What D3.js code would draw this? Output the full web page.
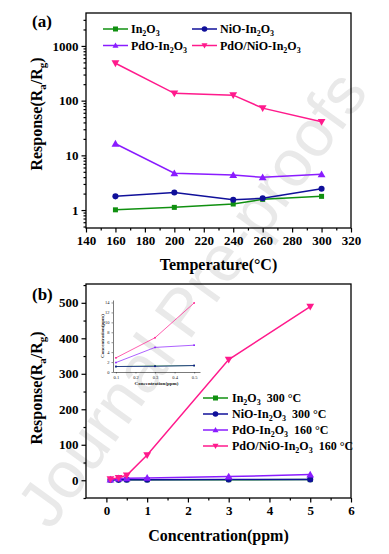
<!DOCTYPE html>
<html>
<head>
<meta charset="utf-8">
<script src="https://cdn.jsdelivr.net/npm/d3@7"></script>
<style>
    body { margin: 0; background: #fff; }
    svg text { font-family: "Liberation Serif", "Times New Roman", serif; font-weight: bold; }
</style>
</head>
<body>
<svg id="chart" width="389" height="554"></svg>
<script>
// ---- data ----
var temps = [160, 200, 240, 260, 300];
var respIn2O3 = [1.01, 1.12, 1.29, 1.57, 1.78];
var respNiO = [1.78, 2.1, 1.54, 1.64, 2.45];
var respPdO = [16.3, 4.7, 4.36, 3.96, 4.5];
var respPdONiO = [483, 136, 126, 73, 41];

var conc = [0.1, 0.3, 0.5, 1, 3, 5];
var concIn2O3 = [1.1, 1.2, 1.3, 1.4, 1.6, 1.8];
var concNiO = [1.1, 1.15, 1.3, 1.6, 2.0, 2.4];
var concPdO = [1.9, 4.95, 5.4, 6.5, 10.4, 16];
var concPdONiO = [2.85, 6.9, 13.9, 71, 340, 489];

var tempTicks = [140, 160, 180, 200, 220, 240, 260, 280, 300, 320];
var logTicks = [1, 10, 100, 1000];
var concTicks = [0, 1, 2, 3, 4, 5, 6];
var respTicks = [0, 100, 200, 300, 400, 500];
var insetXTicks = [0.1, 0.2, 0.3, 0.4, 0.5];
var insetYTicks = [0, 2, 4, 6, 8, 10, 12, 14];

var colors = { In2O3: '#109010', NiO: '#10109a', PdO: '#8a1cff', PdONiO: '#ff1a8c' };
var SERIF = '"Liberation Serif", "Times New Roman", serif';

var svg = d3.select('#chart');

// faint watermark, drawn first so everything sits on top
svg.append('text')
    .attr('transform', 'translate(210,312) rotate(-54)')
    .attr('text-anchor', 'middle')
    .style('font-family', 'Liberation Sans, Arial, sans-serif')
    .style('font-weight', 'normal')
    .style('font-size', '66px')
    .style('fill', '#e9e9e9')
    .text('Journal Pre-proofs');

// draw a marker of a given shape centred at 0,0
function marker(g, shape, color, s) {
    if (shape === 'square') {
        g.append('rect').attr('x', -s / 2).attr('y', -s / 2).attr('width', s).attr('height', s).attr('fill', color);
    } else if (shape === 'circle') {
        g.append('circle').attr('r', s / 2 + 0.3).attr('fill', color);
    } else if (shape === 'up') {
        g.append('path').attr('d', 'M0,' + (-s * 0.6) + 'L' + (s * 0.6) + ',' + (s * 0.45) + 'L' + (-s * 0.6) + ',' + (s * 0.45) + 'Z').attr('fill', color);
    } else {
        g.append('path').attr('d', 'M0,' + (s * 0.6) + 'L' + (s * 0.6) + ',' + (-s * 0.45) + 'L' + (-s * 0.6) + ',' + (-s * 0.45) + 'Z').attr('fill', color);
    }
}

function drawSeries(g, x, y, xs, ys, color, shape, size, width) {
    var pts = xs.map(function (d, i) { return [x(d), y(ys[i])]; });
    g.append('path')
        .attr('d', d3.line()(pts))
        .attr('fill', 'none')
        .attr('stroke', color)
        .attr('stroke-width', width);
    pts.forEach(function (p) {
        marker(g.append('g').attr('transform', 'translate(' + p[0] + ',' + p[1] + ')'), shape, color, size);
    });
}

function subParts(str) {
    // 'In_2O_3' style: underscore marks the next char as subscript
    var out = [];
    var buf = '';
    for (var i = 0; i < str.length; i++) {
        if (str[i] === '_') {
            if (buf) out.push([buf, false]);
            buf = '';
            out.push([str[i + 1], true]);
            i++;
        } else {
            buf += str[i];
        }
    }
    if (buf) out.push([buf, false]);
    return out;
}

function addRich(g, x, y, str, size, subSize) {
    var t = g.append('text').attr('x', x).attr('y', y)
        .attr('xml:space', 'preserve')
        .style('white-space', 'pre')
        .style('font-size', size + 'px');
    var raised = false;
    subParts(str).forEach(function (p) {
        var ts = t.append('tspan').text(p[0]);
        if (p[1]) {
            ts.attr('dy', raised ? 0 : 3).style('font-size', subSize + 'px');
            raised = true;
        } else {
            ts.attr('dy', raised ? -3 : 0);
            raised = false;
        }
    });
    return t;
}

function frame(g, x0, y0, x1, y1) {
    g.append('rect')
        .attr('x', x0).attr('y', y0)
        .attr('width', x1 - x0).attr('height', y1 - y0)
        .attr('fill', 'none')
        .attr('stroke', '#000')
        .attr('stroke-width', 1.3);
}

function yTitle(g, cx, cy) {
    var t = g.append('text')
        .attr('transform', 'translate(' + cx + ',' + cy + ') rotate(-90)')
        .attr('text-anchor', 'middle')
        .style('font-size', '16px');
    t.append('tspan').text('Response(R');
    t.append('tspan').attr('dy', 4).style('font-size', '11px').text('a');
    t.append('tspan').attr('dy', -4).text('/R');
    t.append('tspan').attr('dy', 4).style('font-size', '11px').text('g');
    t.append('tspan').attr('dy', -4).text(')');
}

function styleAxis(ax) {
    ax.attr('font-family', SERIF).attr('font-size', null);
    ax.select('.domain').remove();
    ax.selectAll('line').attr('stroke', '#000').attr('stroke-width', 1.2);
    ax.selectAll('text').style('font-size', '13px').attr('fill', '#000');
}

// ================= panel (a) =================
var L = 86, R = 351;
var aTop = 13, aBot = 228;
var xa = d3.scaleLinear().domain([140, 320]).range([L, R]);
var ya = d3.scaleLog().domain([0.47, 4000]).range([aBot, aTop]);

var ga = svg.append('g');

// minor ticks
var xaMinor = d3.range(150, 320, 20);
ga.append('g').attr('transform', 'translate(0,' + aBot + ')')
    .call(d3.axisBottom(xa).tickValues(xaMinor).tickSize(2.5).tickFormat(''))
    .call(styleAxis);
ga.append('g').attr('transform', 'translate(0,' + aBot + ')')
    .call(d3.axisBottom(xa).tickValues(tempTicks).tickSize(4.5).tickPadding(3).tickFormat(d3.format('d')))
    .call(styleAxis);

var logMinor = [];
[0.1, 1, 10, 100, 1000].forEach(function (dec) {
    for (var k = 2; k <= 9; k++) {
        var v = dec * k;
        if (v > 0.47 && v < 4000) logMinor.push(v);
    }
});
ga.append('g').attr('transform', 'translate(' + L + ',0)')
    .call(d3.axisLeft(ya).tickValues(logMinor).tickSize(2.5).tickFormat(''))
    .call(styleAxis);
ga.append('g').attr('transform', 'translate(' + L + ',0)')
    .call(d3.axisLeft(ya).tickValues(logTicks).tickSize(4.5).tickPadding(3).tickFormat(d3.format('d')))
    .call(styleAxis);

drawSeries(ga, xa, ya, temps, respIn2O3, colors.In2O3, 'square', 5, 1.5);
drawSeries(ga, xa, ya, temps, respNiO, colors.NiO, 'circle', 5.5, 1.5);
drawSeries(ga, xa, ya, temps, respPdO, colors.PdO, 'up', 6.5, 1.5);
drawSeries(ga, xa, ya, temps, respPdONiO, colors.PdONiO, 'down', 6.5, 1.5);

frame(ga, L, aTop, R, aBot);

// legend (a)
var legA = [
    { key: 'In2O3', label: 'In_2O_3', shape: 'square', col: 0, row: 0 },
    { key: 'NiO', label: 'NiO-In_2O_3', shape: 'circle', col: 1, row: 0 },
    { key: 'PdO', label: 'PdO-In_2O_3', shape: 'up', col: 0, row: 1 },
    { key: 'PdONiO', label: 'PdO/NiO-In_2O_3', shape: 'down', col: 1, row: 1 }
];
legA.forEach(function (d) {
    var lx = d.col === 0 ? 103 : 192;
    var ly = d.row === 0 ? 29 : 45.5;
    ga.append('line').attr('x1', lx).attr('x2', lx + 25).attr('y1', ly).attr('y2', ly)
        .attr('stroke', colors[d.key]).attr('stroke-width', 1.5);
    marker(ga.append('g').attr('transform', 'translate(' + (lx + 12.5) + ',' + ly + ')'), d.shape, colors[d.key], 5);
    addRich(ga, lx + 28, ly + 4, d.label, 12, 8);
});

ga.append('text').attr('x', 32).attr('y', 27).style('font-size', '17px').text('(a)');
yTitle(ga, 42, 114);
ga.append('text').attr('x', (L + R) / 2).attr('y', 270).attr('text-anchor', 'middle')
    .style('font-size', '16px').text('Temperature(\u00b0C)');

// ================= panel (b) =================
var bTop = 284, bBot = 498;
var xb = d3.scaleLinear().domain([-0.5, 6]).range([L, R]);
var yb = d3.scaleLinear().domain([-50, 553]).range([bBot, bTop]);

var gb = svg.append('g');

gb.append('g').attr('transform', 'translate(0,' + bBot + ')')
    .call(d3.axisBottom(xb).tickValues(d3.range(0.5, 6, 1)).tickSize(2.5).tickFormat(''))
    .call(styleAxis);
gb.append('g').attr('transform', 'translate(0,' + bBot + ')')
    .call(d3.axisBottom(xb).tickValues(concTicks).tickSize(4.5).tickPadding(3).tickFormat(d3.format('d')))
    .call(styleAxis);
gb.append('g').attr('transform', 'translate(' + L + ',0)')
    .call(d3.axisLeft(yb).tickValues(d3.range(-50, 551, 100)).tickSize(2.5).tickFormat(''))
    .call(styleAxis);
gb.append('g').attr('transform', 'translate(' + L + ',0)')
    .call(d3.axisLeft(yb).tickValues(respTicks).tickSize(4.5).tickPadding(3).tickFormat(d3.format('d')))
    .call(styleAxis);

drawSeries(gb, xb, yb, conc, concIn2O3, colors.In2O3, 'square', 5, 1.5);
drawSeries(gb, xb, yb, conc, concNiO, colors.NiO, 'circle', 5.5, 1.5);
drawSeries(gb, xb, yb, conc, concPdO, colors.PdO, 'up', 6.5, 1.5);
drawSeries(gb, xb, yb, conc, concPdONiO, colors.PdONiO, 'down', 6.5, 1.5);

frame(gb, L, bTop, R, bBot);

// legend (b)
var legB = [
    { key: 'In2O3', label: 'In_2O_3  300 \u00b0C', shape: 'square' },
    { key: 'NiO', label: 'NiO-In_2O_3  300 \u00b0C', shape: 'circle' },
    { key: 'PdO', label: 'PdO-In_2O_3  160 \u00b0C', shape: 'up' },
    { key: 'PdONiO', label: 'PdO/NiO-In_2O_3  160 \u00b0C', shape: 'down' }
];
legB.forEach(function (d, i) {
    var lx = 203, ly = 398 + i * 16;
    gb.append('line').attr('x1', lx).attr('x2', lx + 25).attr('y1', ly).attr('y2', ly)
        .attr('stroke', colors[d.key]).attr('stroke-width', 1.5);
    marker(gb.append('g').attr('transform', 'translate(' + (lx + 12.5) + ',' + ly + ')'), d.shape, colors[d.key], 5);
    addRich(gb, lx + 29, ly + 4, d.label, 12, 8);
});

gb.append('text').attr('x', 32).attr('y', 300).style('font-size', '17px').text('(b)');
yTitle(gb, 42, 388);
gb.append('text').attr('x', (L + R) / 2).attr('y', 541).attr('text-anchor', 'middle')
    .style('font-size', '16px').text('Concentration(ppm)');

// ---- inset ----
var iL = 113, iR = 200, iTop = 300, iBot = 372;
var xi = d3.scaleLinear().domain([0.085, 0.53]).range([iL, iR]);
var yi = d3.scaleLinear().domain([0, 14.5]).range([iBot, iTop]);
var gi = svg.append('g');

function styleInset(ax) {
    ax.attr('font-family', SERIF).attr('font-size', null);
    ax.select('.domain').attr('stroke', '#222').attr('stroke-width', 0.6);
    ax.selectAll('line').attr('stroke', '#222').attr('stroke-width', 0.5);
    ax.selectAll('text').style('font-size', '4.5px').style('font-weight', 'normal').attr('fill', '#222');
}
gi.append('g').attr('transform', 'translate(0,' + iBot + ')')
    .call(d3.axisBottom(xi).tickValues(insetXTicks).tickSize(1.5).tickSizeOuter(0).tickPadding(2).tickFormat(d3.format('.1f')))
    .call(styleInset);
gi.append('g').attr('transform', 'translate(' + iL + ',0)')
    .call(d3.axisLeft(yi).tickValues(insetYTicks).tickSize(1.5).tickSizeOuter(0).tickPadding(2).tickFormat(d3.format('d')))
    .call(styleInset);

var insetIdx = [0, 1, 2];
function pick(arr) { return insetIdx.map(function (i) { return arr[i]; }); }
drawSeries(gi, xi, yi, pick(conc), pick(concIn2O3), colors.In2O3, 'square', 1.6, 0.7);
drawSeries(gi, xi, yi, pick(conc), pick(concNiO), colors.NiO, 'square', 1.6, 0.7);
drawSeries(gi, xi, yi, pick(conc), pick(concPdO), colors.PdO, 'square', 1.6, 0.7);
drawSeries(gi, xi, yi, pick(conc), pick(concPdONiO), colors.PdONiO, 'square', 1.6, 0.7);

gi.append('text').attr('x', (iL + iR) / 2).attr('y', iBot + 13).attr('text-anchor', 'middle')
    .style('font-size', '5px').attr('fill', '#222').text('Concentration(ppm)');
gi.append('text').attr('transform', 'translate(' + (iL - 9) + ',' + ((iTop + iBot) / 2) + ') rotate(-90)')
    .attr('text-anchor', 'middle')
    .style('font-size', '5px').attr('fill', '#222').text('Concentration(ppm)');
</script>
</body>
</html>
